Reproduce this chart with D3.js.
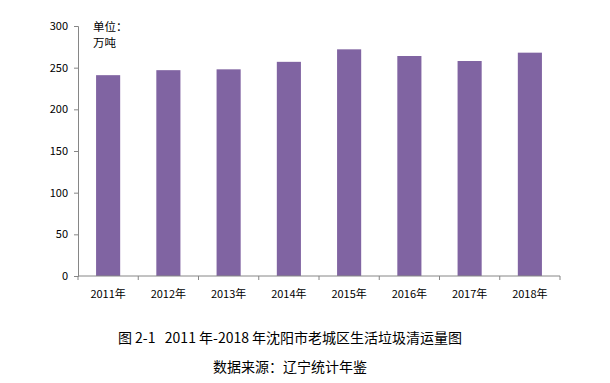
<!DOCTYPE html>
<html>
<head>
<meta charset="utf-8">
<script src="https://d3js.org/d3.v7.min.js"></script>
<style>
  body { margin: 0; background: #fff; }
  text { font-family: "Noto Sans CJK SC", "DejaVu Sans", sans-serif; }
</style>
</head>
<body>
<svg width="610" height="383"></svg>
<script>
// values (万吨)
const years = ["2011年", "2012年", "2013年", "2014年", "2015年", "2016年", "2017年", "2018年"];
const amounts = [241, 247, 248, 257, 272, 264, 258, 268];
const yTicks = [0, 50, 100, 150, 200, 250, 300];

const svg = d3.select("svg");
const plotLeft = 78, plotRight = 560, plotTop = 26, plotBottom = 276;

const x = d3.scaleBand().domain(years).range([plotLeft, plotRight]).paddingInner(0.6).paddingOuter(0.3);
const xEdge = d3.scaleLinear().domain([0, years.length]).range([plotLeft, plotRight]);
const y = d3.scaleLinear().domain([0, 300]).range([plotBottom, plotTop]);

// bars
svg.append("g")
  .selectAll("rect")
  .data(years)
  .enter()
  .append("rect")
  .attr("x", d => x(d))
  .attr("y", (d, i) => y(amounts[i]))
  .attr("width", x.bandwidth())
  .attr("height", (d, i) => plotBottom - y(amounts[i]))
  .attr("fill", "#8064a2");

// y axis
const yAxis = svg.append("g")
  .attr("transform", `translate(${plotLeft},0)`)
  .call(d3.axisLeft(y).tickValues(yTicks).tickSize(4).tickPadding(6));
yAxis.select(".domain").attr("stroke", "#868686");
yAxis.selectAll(".tick line").attr("stroke", "#868686");
yAxis.selectAll(".tick text").attr("font-size", 11).attr("fill", "#000");

// x axis: ticks at band edges, labels at band centres
const xg = svg.append("g").attr("transform", `translate(0,${plotBottom})`);
xg.append("line").attr("x1", plotLeft).attr("x2", plotRight).attr("stroke", "#868686");
xg.selectAll(".edge")
  .data(d3.range(years.length + 1))
  .enter()
  .append("line")
  .attr("x1", d => xEdge(d)).attr("x2", d => xEdge(d))
  .attr("y1", 0).attr("y2", 4)
  .attr("stroke", "#868686");
xg.selectAll(".lab")
  .data(years)
  .enter()
  .append("text")
  .attr("x", d => x(d) + x.bandwidth() / 2)
  .attr("y", 22)
  .attr("text-anchor", "middle")
  .attr("font-size", 11)
  .text(d => d);

// unit
svg.append("text").attr("x", 93).attr("y", 31).attr("font-size", 11.5).text("单位：");
svg.append("text").attr("x", 93).attr("y", 47).attr("font-size", 11.5).text("万吨");

// caption
svg.append("text").attr("x", 290).attr("y", 343).attr("text-anchor", "middle")
  .attr("font-size", 14).attr("xml:space", "preserve")
  .text("图 2-1   2011 年-2018 年沈阳市老城区生活垃圾清运量图");
svg.append("text").attr("x", 290).attr("y", 372).attr("text-anchor", "middle")
  .attr("font-size", 14)
  .text("数据来源：辽宁统计年鉴");
</script>
</body>
</html>
